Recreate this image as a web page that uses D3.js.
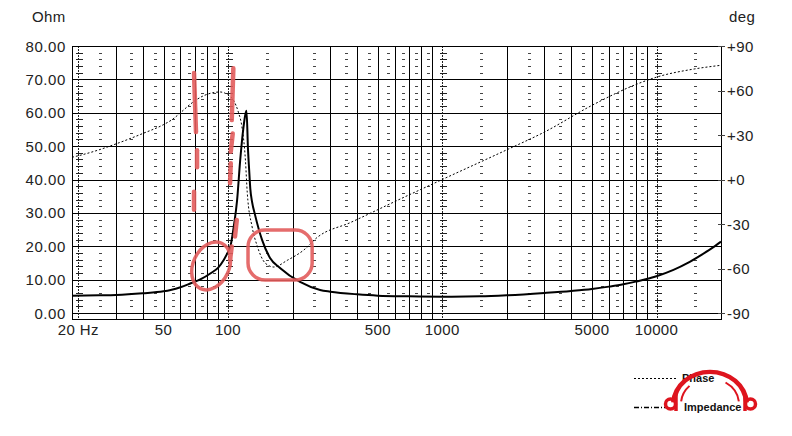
<!DOCTYPE html>
<html><head><meta charset="utf-8">
<script src="https://cdn.jsdelivr.net/npm/d3@7"></script>
<style>body{margin:0;background:#fff;} svg{display:block;font-family:Arial,"Liberation Sans",sans-serif;}</style>
</head><body><svg id="c" width="792" height="436"></svg>
<script>
// ---------- data ----------
const impFreq = [18.7, 25, 30, 40, 50, 54, 60, 67, 75, 83, 90, 95.5, 100, 102.6, 106.4, 110.3, 114, 118, 120.5, 122, 124, 125.5, 127.1, 129.5, 133.7, 144.2, 157.1, 174.9, 216.9, 269, 300, 400, 500, 700, 1000, 1500, 2000, 3000, 4000, 5000, 6000, 7000, 8000, 10000, 12000, 14000, 16000, 18000, 20000];
const impOhm  = [5.2, 5.3, 5.4, 5.9, 6.5, 6.9, 7.7, 8.9, 10.2, 11.9, 13.6, 15.9, 18.3, 19.9, 25.9, 33.9, 45.8, 55.5, 59.5, 60.6, 48.8, 43, 37.2, 33.3, 29.4, 21.9, 16.5, 13.5, 9.3, 6.9, 6.4, 5.6, 5.2, 5.0, 4.9, 5.0, 5.3, 6.0, 6.6, 7.2, 7.9, 8.6, 9.4, 11.0, 12.9, 15.0, 17.2, 19.3, 21.4];

const phaseFreq = [18.7, 20, 25, 30, 40, 50, 55, 60, 67, 77, 85, 92, 100, 106, 112, 116, 120.6, 123, 129.6, 137, 149.5, 163.5, 189, 226, 261, 373, 640, 1000, 2000, 3000, 5000, 8000, 10000, 15000, 20000];
const phaseDeg  = [15, 16, 20, 24, 31, 37, 40.5, 45, 51, 56.5, 58.5, 59, 57, 53.5, 45, 36, 13, -9, -32, -45, -56.5, -59, -54.5, -47.5, -39, -29, -13, 0, 20, 32, 50, 64, 69, 74.5, 77];

const ohmTicks = [0, 10, 20, 30, 40, 50, 60, 70, 80];
const degTicks = [90, 60, 30, 0, -30, -60, -90];
const degLabels = ["+90", "+60", "+30", "+0", "-30", "-60", "-90"];
const freqLabelVals = [20, 50, 100, 500, 1000, 5000, 10000];
const freqLabelText = ["20 Hz", "50", "100", "500", "1000", "5000", "10000"];
const decadeFreqs = [20, 100, 1000, 10000];
const majorFreqs = [30, 40, 50, 60, 70, 80, 90, 200, 300, 400, 500, 600, 700, 800, 900, 2000, 3000, 4000, 5000, 6000, 7000, 8000, 9000];
const minorFreqs = [25, 35, 45, 55, 65, 75, 85, 150, 250, 350, 450, 550, 650, 750, 850, 1500, 2500, 3500, 4500, 5500, 6500, 7500, 8500, 15000];

// annotation strokes (hand-drawn red marks) in data space [Hz, Ohm]
const annoLineA = [[[69.4, 71.9], [70.9, 54.2]], [[71.7, 48.8], [71.7, 43.7]], [[69.4, 36.3], [69.4, 30.9]]];
const annoLineB = [[[105.9, 73.3], [104.1, 57.8]], [[105.2, 53.8], [103.0, 48.3]], [[103.0, 44.9], [102.2, 38.9]], [[109.9, 27.9], [107.8, 22.9]], [[104.1, 19.9], [102.2, 15.9]]];
const annoLoop = [83.4, 14.1];
const annoBox = [[124, 24.9], [247, 9.9]];

// ---------- layout ----------
const L = 72, R = 721, T = 46, B = 319, Y0 = 313;
const svg = d3.select("#c");
const x = d3.scaleLog().domain([18.7, 20000]).range([L, R]);
const y = d3.scaleLinear().domain([0, 80]).range([Y0, T]);
const yp = d3.scaleLinear().domain([-90, 90]).range([Y0, T]);
const px = v => Math.round(x(v)) + 0.5;
const py = v => Math.round(y(v)) + 0.5;

const grid = svg.append("g").attr("shape-rendering", "crispEdges");
grid.selectAll(".h").data(ohmTicks).join("line")
  .attr("x1", L).attr("x2", R).attr("y1", d => py(d)).attr("y2", d => py(d))
  .attr("stroke", "#000");
grid.selectAll(".v").data(majorFreqs).join("line")
  .attr("x1", d => px(d)).attr("x2", d => px(d)).attr("y1", T).attr("y2", B)
  .attr("stroke", "#000");
const minorYs = d3.range(2, 80, 2).filter(v => v % 10 !== 0);
const mm = [];
minorFreqs.forEach(f => minorYs.forEach(v => mm.push([f, v])));
grid.selectAll(".mm").data(mm).join("line")
  .attr("x1", d => px(d[0]) - 1).attr("x2", d => px(d[0]) + 2)
  .attr("y1", d => py(d[1])).attr("y2", d => py(d[1]))
  .attr("stroke", "#444");
grid.selectAll(".dl").data(decadeFreqs).join("line")
  .attr("x1", d => px(d)).attr("x2", d => px(d)).attr("y1", T).attr("y2", B)
  .attr("stroke", "#222").attr("stroke-dasharray", "2,1");
const dm = [];
decadeFreqs.forEach(f => minorYs.forEach(v => dm.push([f, v])));
grid.selectAll(".dm").data(dm).join("line")
  .attr("x1", d => px(d[0]) - 3).attr("x2", d => px(d[0]) + 4)
  .attr("y1", d => py(d[1])).attr("y2", d => py(d[1]))
  .attr("stroke", "#222");
grid.append("rect").attr("x", L + 0.5).attr("y", T + 0.5).attr("width", R - L).attr("height", B - T)
  .attr("fill", "none").attr("stroke", "#000");
grid.selectAll(".rt").data(degTicks).join("line")
  .attr("x1", R - 3).attr("x2", R + 4)
  .attr("y1", d => Math.round(yp(d)) + 0.5).attr("y2", d => Math.round(yp(d)) + 0.5)
  .attr("stroke", "#444");

// ---------- labels ----------
const txt = svg.append("g").attr("fill", "#222").attr("font-size", 15);
txt.selectAll(".yl").data(ohmTicks).join("text")
  .attr("x", 66).attr("y", d => y(d) + 5.5).attr("text-anchor", "end")
  .attr("letter-spacing", 0.6).text(d => d.toFixed(2));
txt.selectAll(".rl").data(degTicks).join("text")
  .attr("x", 727).attr("y", d => yp(d) + 5.5).attr("letter-spacing", 0.4)
  .text((d, i) => degLabels[i]);
txt.selectAll(".xl").data(freqLabelVals).join("text")
  .attr("x", d => x(d)).attr("y", 335).attr("text-anchor", "middle")
  .attr("letter-spacing", 0.4).text((d, i) => freqLabelText[i]);
txt.append("text").attr("x", 32).attr("y", 22).attr("letter-spacing", 0.4).text("Ohm");
txt.append("text").attr("x", 729).attr("y", 22).attr("letter-spacing", 0.4).text("deg");

// ---------- curves ----------
svg.append("clipPath").attr("id", "clip").append("rect")
  .attr("x", L).attr("y", T).attr("width", R - L + 1).attr("height", B - T);
const curves = svg.append("g").attr("clip-path", "url(#clip)");
const impData = impFreq.map((f, i) => [f, impOhm[i]]);
const phData = phaseFreq.map((f, i) => [f, phaseDeg[i]]);
curves.append("path").datum(phData)
  .attr("d", d3.line().x(d => x(d[0])).y(d => yp(d[1])).curve(d3.curveMonotoneX))
  .attr("fill", "none").attr("stroke", "#000").attr("stroke-width", 1).attr("stroke-dasharray", "2,2");
curves.append("path").datum(impData)
  .attr("d", d3.line().x(d => x(d[0])).y(d => y(d[1])).curve(d3.curveMonotoneX))
  .attr("fill", "none").attr("stroke", "#000").attr("stroke-width", 2);

// ---------- red annotations ----------
const red = "rgb(226,92,92)";
const an = svg.append("g").attr("stroke", red).attr("fill", "none").attr("stroke-linecap", "round").attr("opacity", 0.9);
an.selectAll(".a").data(annoLineA.concat(annoLineB)).join("line")
  .attr("x1", d => x(d[0][0])).attr("y1", d => y(d[0][1]))
  .attr("x2", d => x(d[1][0])).attr("y2", d => y(d[1][1]))
  .attr("stroke-width", 4.5);
an.append("ellipse").attr("cx", x(annoLoop[0])).attr("cy", y(annoLoop[1]))
  .attr("rx", 18).attr("ry", 25)
  .attr("transform", `rotate(25 ${x(annoLoop[0])} ${y(annoLoop[1])})`)
  .attr("stroke-width", 3.5);
an.append("rect").attr("x", x(annoBox[0][0])).attr("y", y(annoBox[0][1]))
  .attr("width", x(annoBox[1][0]) - x(annoBox[0][0])).attr("height", y(annoBox[1][1]) - y(annoBox[0][1]))
  .attr("rx", 17).attr("stroke-width", 3.5);

// ---------- legend ----------
const lg = svg.append("g");
lg.append("line").attr("x1", 634).attr("x2", 676).attr("y1", 378.5).attr("y2", 378.5)
  .attr("stroke", "#000").attr("stroke-dasharray", "2,2");
lg.append("line").attr("x1", 634).attr("x2", 668).attr("y1", 407.5).attr("y2", 407.5)
  .attr("stroke", "#000").attr("stroke-width", 1.5).attr("stroke-dasharray", "5,2,1,2");
const lo = svg.append("g").attr("fill", "none").attr("stroke", "rgb(222,20,30)");
lo.append("path").attr("d", d3.arc()({innerRadius: 34, outerRadius: 39, startAngle: -Math.PI / 2 + 0.05, endAngle: Math.PI / 2 - 0.05}))
  .attr("transform", "translate(710,404) scale(1,0.88)").attr("fill", "rgb(222,20,30)").attr("stroke", "none");
lo.append("path").attr("d", d3.arc()({innerRadius: 28, outerRadius: 30, startAngle: Math.PI * 0.18, endAngle: Math.PI / 2 - 0.1}))
  .attr("transform", "translate(710,404) scale(1,0.88)").attr("fill", "rgb(222,20,30)").attr("stroke", "none");
lo.append("path").attr("d", d3.arc()({innerRadius: 28, outerRadius: 30, startAngle: -Math.PI / 2 + 0.1, endAngle: -Math.PI * 0.25}))
  .attr("transform", "translate(710,404) scale(1,0.88)").attr("fill", "rgb(222,20,30)").attr("stroke", "none");
lo.append("circle").attr("cx", 670.5).attr("cy", 404).attr("r", 5).attr("stroke-width", 3.5);
lo.append("line").attr("x1", 676).attr("x2", 676).attr("y1", 394).attr("y2", 411).attr("stroke-width", 3.5);
lo.append("circle").attr("cx", 750.5).attr("cy", 404).attr("r", 5).attr("stroke-width", 3.5);
lo.append("line").attr("x1", 745).attr("x2", 745).attr("y1", 394).attr("y2", 411).attr("stroke-width", 3.5);
lg.append("text").attr("x", 682).attr("y", 382).attr("font-size", 11).attr("font-weight", "bold")
  .attr("fill", "#111").text("Phase");
lg.append("text").attr("x", 684).attr("y", 411).attr("font-size", 11).attr("font-weight", "bold")
  .attr("fill", "#111").attr("stroke", "#fff").attr("stroke-width", 0.6).attr("paint-order", "stroke").text("Impedance");
</script></body></html>
